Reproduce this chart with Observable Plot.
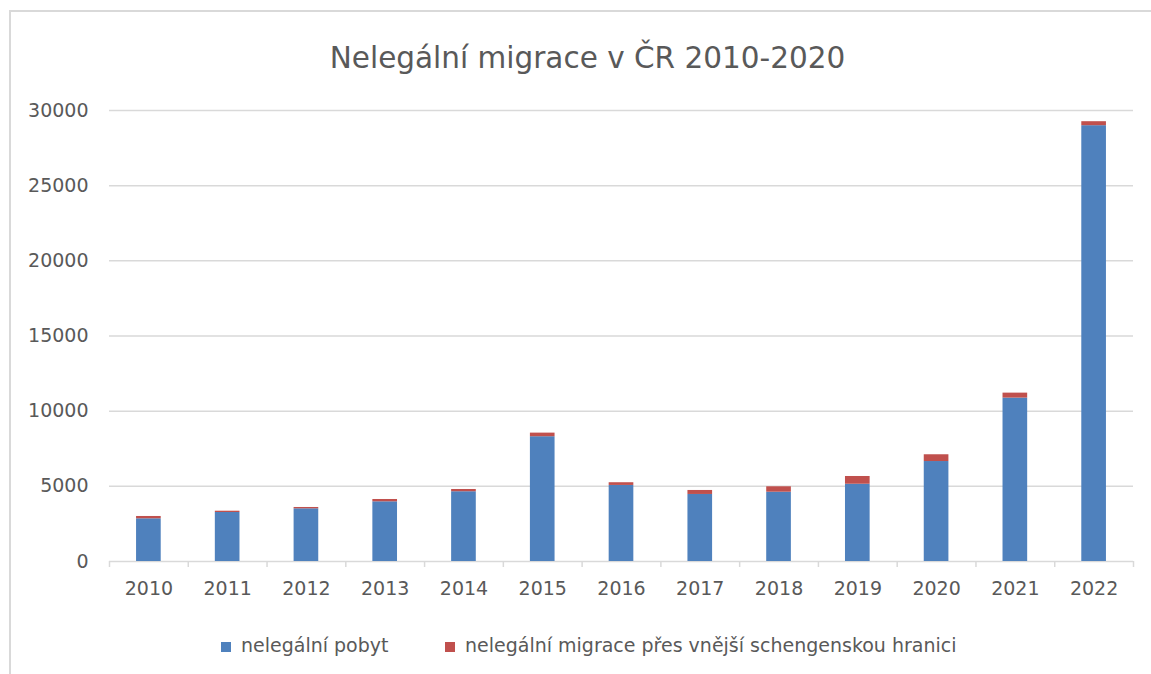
<!DOCTYPE html>
<html>
<head>
<meta charset="utf-8">
<script src="https://cdn.jsdelivr.net/npm/d3@7"></script>
<script src="https://cdn.jsdelivr.net/npm/@observablehq/plot@0.6"></script>
<style>
  html, body { margin: 0; padding: 0; background: #ffffff; overflow: hidden; }
  #wrap { position: relative; width: 1151px; height: 674px; overflow: hidden; background: #fff; font-family: "DejaVu Sans", sans-serif; color: #595959; }
  #frameTop { position: absolute; left: 9px; top: 10px; width: 1142px; height: 2px; background: #d9d9d9; }
  #frameLeft { position: absolute; left: 9px; top: 10px; width: 2px; height: 664px; background: #d9d9d9; }
  #title { position: absolute; left: 0; top: 44px; width: 1175px; text-align: center; font-size: 29.5px; line-height: 29px; color: #595959; white-space: nowrap; }
  #chart { position: absolute; left: 0; top: 0; }
  .leg { position: absolute; top: 634px; height: 22px; line-height: 22px; font-size: 19px; color: #595959; white-space: nowrap; }
  .leg .sw { display: inline-block; width: 10px; height: 10px; margin-right: 10px; vertical-align: 0px; }
</style>
</head>
<body>
<div id="wrap">
  <div id="frameTop"></div>
  <div id="frameLeft"></div>
  <div id="chart"></div>
  <div id="title"></div>
  <div id="legend"></div>
</div>
<script>
const titleText = "Nelegální migrace v ČR 2010-2020";
const years = ["2010","2011","2012","2013","2014","2015","2016","2017","2018","2019","2020","2021","2022"];
const seriesNames = ["nelegální pobyt", "nelegální migrace přes vnější schengenskou hranici"];
const pobyt =  [2840, 3260, 3505, 3970, 4640, 8300, 5060, 4460, 4610, 5140, 6650, 10870, 28990];
const vnejsi = [155, 86, 88, 155, 150, 240, 180, 265, 360, 515, 450, 330, 265];
const yTicks = [0, 5000, 10000, 15000, 20000, 25000, 30000];
const colors = ["#4f81bd", "#c0504d"];

const rows = years.flatMap((y, i) => [
  {year: y, series: seriesNames[0], value: pobyt[i]},
  {year: y, series: seriesNames[1], value: vnejsi[i]}
]);

const W = 1151, H = 610;
const ml = 109, mr = 18, mt = 110, mb = H - 561;
const step = (W - ml - mr) / years.length;
const gridColor = "#d9d9d9";

const chart = Plot.plot({
  width: W, height: H,
  marginLeft: ml, marginRight: mr, marginTop: mt, marginBottom: mb,
  style: {fontFamily: "DejaVu Sans", fontSize: "19px", color: "#595959", background: "transparent", overflow: "visible"},
  x: {domain: years, paddingInner: 0.687, paddingOuter: 0.3435, round: false, label: null},
  y: {domain: [0, 30000], label: null},
  color: {domain: seriesNames, range: colors},
  marks: [
    Plot.gridY(yTicks, {stroke: gridColor, strokeOpacity: 1, strokeWidth: 1.5}),
    Plot.axisY(yTicks, {tickSize: 0, tickPadding: 21, tickFormat: "d", fill: "#595959", label: null}),
    Plot.axisX({tickSize: 0, tickPadding: 20, fill: "#595959", label: null}),
    Plot.axisX({tickSize: 6, fill: null, stroke: gridColor, strokeWidth: 1.5, dx: -step / 2, label: null}),
    Plot.axisX([years[years.length - 1]], {tickSize: 6, fill: null, stroke: gridColor, strokeWidth: 1.5, dx: step / 2, label: null}),
    Plot.barY(rows, {x: "year", y: "value", fill: "series"})
  ]
});
document.getElementById("chart").appendChild(chart);
document.getElementById("title").textContent = titleText;

const legendPos = [221, 445];
const legend = document.getElementById("legend");
seriesNames.forEach((name, i) => {
  const item = document.createElement("div");
  item.className = "leg";
  item.style.left = legendPos[i] + "px";
  const sw = document.createElement("span");
  sw.className = "sw";
  sw.style.background = colors[i];
  item.appendChild(sw);
  item.appendChild(document.createTextNode(name));
  legend.appendChild(item);
});
</script>
</body>
</html>
